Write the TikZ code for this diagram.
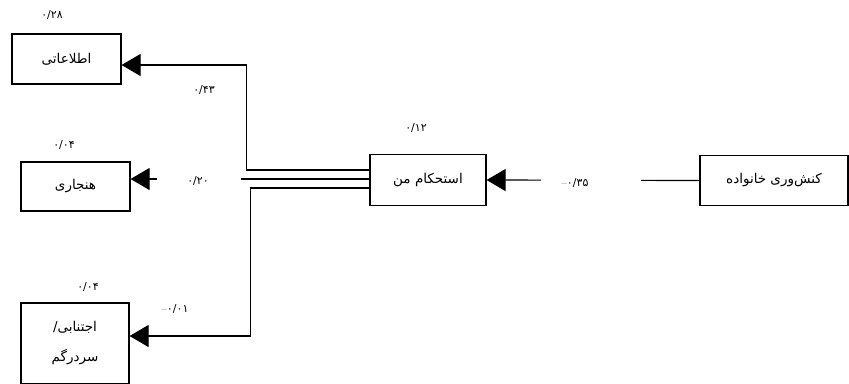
\documentclass[tikz,border=0pt]{standalone}
\usepackage{fontspec}
\usetikzlibrary{arrows.meta,calc}
\TeXXeTstate=1
\newfontfamily\arabicfont[Script=Arabic]{DejaVu Sans}
\begin{document}
\begin{tikzpicture}[x=1pt,y=-1pt,
  box/.style={draw, line width=1.2pt, inner sep=0pt, align=center,
    font=\arabicfont\fontsize{13.5}{16}\selectfont},
  num/.style={inner sep=1pt, font=\arabicfont\fontsize{11}{13}\selectfont},
  arr/.style={line width=1.2pt, -{Triangle[length=19pt,width=22pt]}},
  gapbox/.style={fill=white, inner sep=0pt, minimum height=4pt}]
\useasboundingbox (0,0) rectangle (849,383);
% boxes
\node[box, minimum width=109pt, minimum height=50pt] (info) at (66.5,59) {\beginR اطلاعاتی\endR};
\node[box, minimum width=109pt, minimum height=49pt] (norm) at (75.5,186.5) {\beginR هنجاری\endR};
\node[box, minimum width=108pt, minimum height=81pt] (avoid) at (75,343.5)
  {\beginR اجتنابی/\endR\\[14pt]\beginR سردرگم\endR};
\node[box, minimum width=116pt, minimum height=51pt] (hub) at (428,180) {\beginR استحکام من\endR};
\node[box, minimum width=148pt, minimum height=50pt] (fam) at (774,180.5) {\beginR کنش‌وری خانواده\endR};
% anchor points
\coordinate (infoIn) at ($(info.east)+(0,6)$);
\coordinate (normIn) at ($(norm.east)+(0,-7.5)$);
\coordinate (avoidIn) at ($(avoid.east)+(0,-7.5)$);
% connectors
\draw[arr] ($(hub.west)+(0,-10)$) -| ($(infoIn)+(125,0)$) -- (infoIn);
\draw[arr] ($(hub.west)+(0,-1)$) -- node[gapbox, pos=0.7125, minimum width=84pt] (g20) {} (normIn);
\draw[arr] ($(hub.west)+(0,8)$) -| ($(avoidIn)+(121,0)$) -- (avoidIn);
\draw[arr] (fam.west) -- node[gapbox, pos=0.51, minimum width=100pt] (g35) {} (hub.east);
% labels
\node[num] (l28) at (52,15) {۰/۲۸};
\node[num] (l43) at (204,90) {۰/۴۳};
\node[num] (l04a) at (64,145) {۰/۰۴};
\node[num] (l20) at (198,181) {۰/۲۰};
\node[num] (l12) at (416,128) {۰/۱۲};
\node[num] (l35) at (575,183) {{\rmfamily –}۰/۳۵};
\node[num] (l04b) at (88,287) {۰/۰۴};
\node[num] (l01) at (175,309) {{\rmfamily –}۰/۰۱};
\end{tikzpicture}
\end{document}
